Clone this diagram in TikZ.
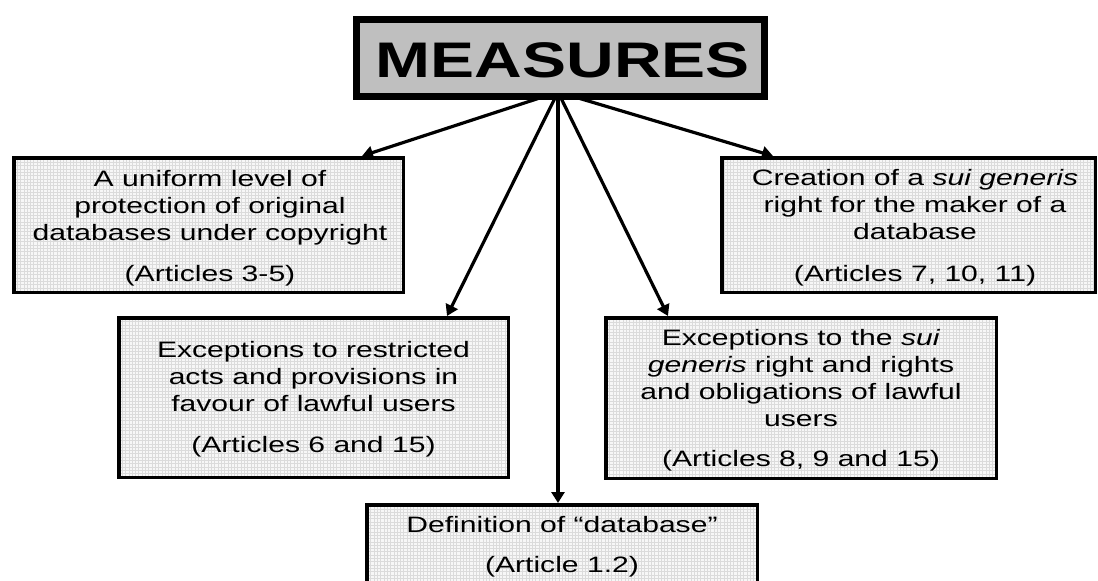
\documentclass[tikz,border=0pt]{standalone}
\usepackage{fontspec}
\setmainfont{Liberation Sans}
\usetikzlibrary{arrows.meta,calc}
\pgfdeclarelayer{front}
\pgfsetlayers{main,front}
\newcommand\widetext[1]{\scalebox{1.35}[1]{#1}}
\newcommand\widetitle[1]{\scalebox{1.32}[1]{#1}}
\begin{document}
\begin{tikzpicture}[x=1pt,y=-1pt,
  boxstyle/.style={draw=black, line width=3.5pt, fill=gray!6, inner sep=0pt,
    path picture={\draw[gray!28, line width=0.35pt, step=3.3pt]
      (path picture bounding box.south west) grid (path picture bounding box.north east);}},
  titlebox/.style={draw=black, line width=7pt, fill=gray!50, inner sep=0pt},
  conn/.style={line width=3.2pt, -{Triangle[width=13pt,length=11pt]}},
  txt/.style={inner sep=0pt, anchor=base, font=\fontsize{22.3}{27}\selectfont},
]
\useasboundingbox (0,0) rectangle (1098,581);
\clip (0,0) rectangle (1098,581);

% boxes
\node[boxstyle, minimum width=389.5pt, minimum height=134.5pt] (b1) at (208.5,225) {};
\node[boxstyle, minimum width=389.5pt, minimum height=159.5pt] (b2) at (313.5,397.5) {};
\node[boxstyle, minimum width=390.5pt, minimum height=113.5pt] (b3) at (562,561.5) {};
\node[boxstyle, minimum width=373.5pt, minimum height=134.5pt] (b4) at (908.5,225) {};
\node[boxstyle, minimum width=390.5pt, minimum height=160.5pt] (b5) at (801,398) {};

% texts
\node[txt] (t1) at (210,186) {\widetext{\begin{tabular}[t]{@{}c@{}}A uniform level of\\protection of original\\databases under copyright\\[14pt](Articles 3-5)\end{tabular}}};
\node[txt] (t2) at (313.5,357) {\widetext{\begin{tabular}[t]{@{}c@{}}Exceptions to restricted\\acts and provisions in\\favour of lawful users\\[14pt](Articles 6 and 15)\end{tabular}}};
\node[txt] (t3) at (562,532) {\widetext{\begin{tabular}[t]{@{}c@{}}Definition of “database”\\[13pt](Article 1.2)\end{tabular}}};
\node[txt] (t4) at (915,185) {\widetext{\begin{tabular}[t]{@{}c@{}}Creation of a \textit{sui generis}\\right for the maker of a\\database\\[15pt](Articles 7, 10, 11)\end{tabular}}};
\node[txt] (t5) at (801,345) {\widetext{\begin{tabular}[t]{@{}c@{}}Exceptions to the \textit{sui}\\\textit{generis} right and rights\\and obligations of lawful\\users\\[13pt](Articles 8, 9 and 15)\end{tabular}}};

% title box on front layer
\begin{pgfonlayer}{front}
\node[titlebox, minimum width=408pt, minimum height=77pt] (m) at (560.5,58) {};
\node[inner sep=0pt, anchor=base, font=\fontsize{50}{60}\selectfont\bfseries] (mt) at (563,77.3) {\widetitle{MEASURES}};
\end{pgfonlayer}

\coordinate (hub) at ($(m.center)+(-2.5,34)$);
\coordinate (e1) at ($(b1.north)+(153.5,0)$);
\coordinate (e2) at ($(b2.north)+(133.5,0)$);
\coordinate (e4) at ($(b4.north)+(-135.5,0)$);
\coordinate (e5) at ($(b5.north)+(-133,0)$);

\draw[conn] (hub) -- (e1);
\draw[conn] (hub) -- (e2);
\draw[conn] (hub) -- (hub |- b3.north);
\draw[conn] (hub) -- (e4);
\draw[conn] (hub) -- (e5);
\end{tikzpicture}
\end{document}
